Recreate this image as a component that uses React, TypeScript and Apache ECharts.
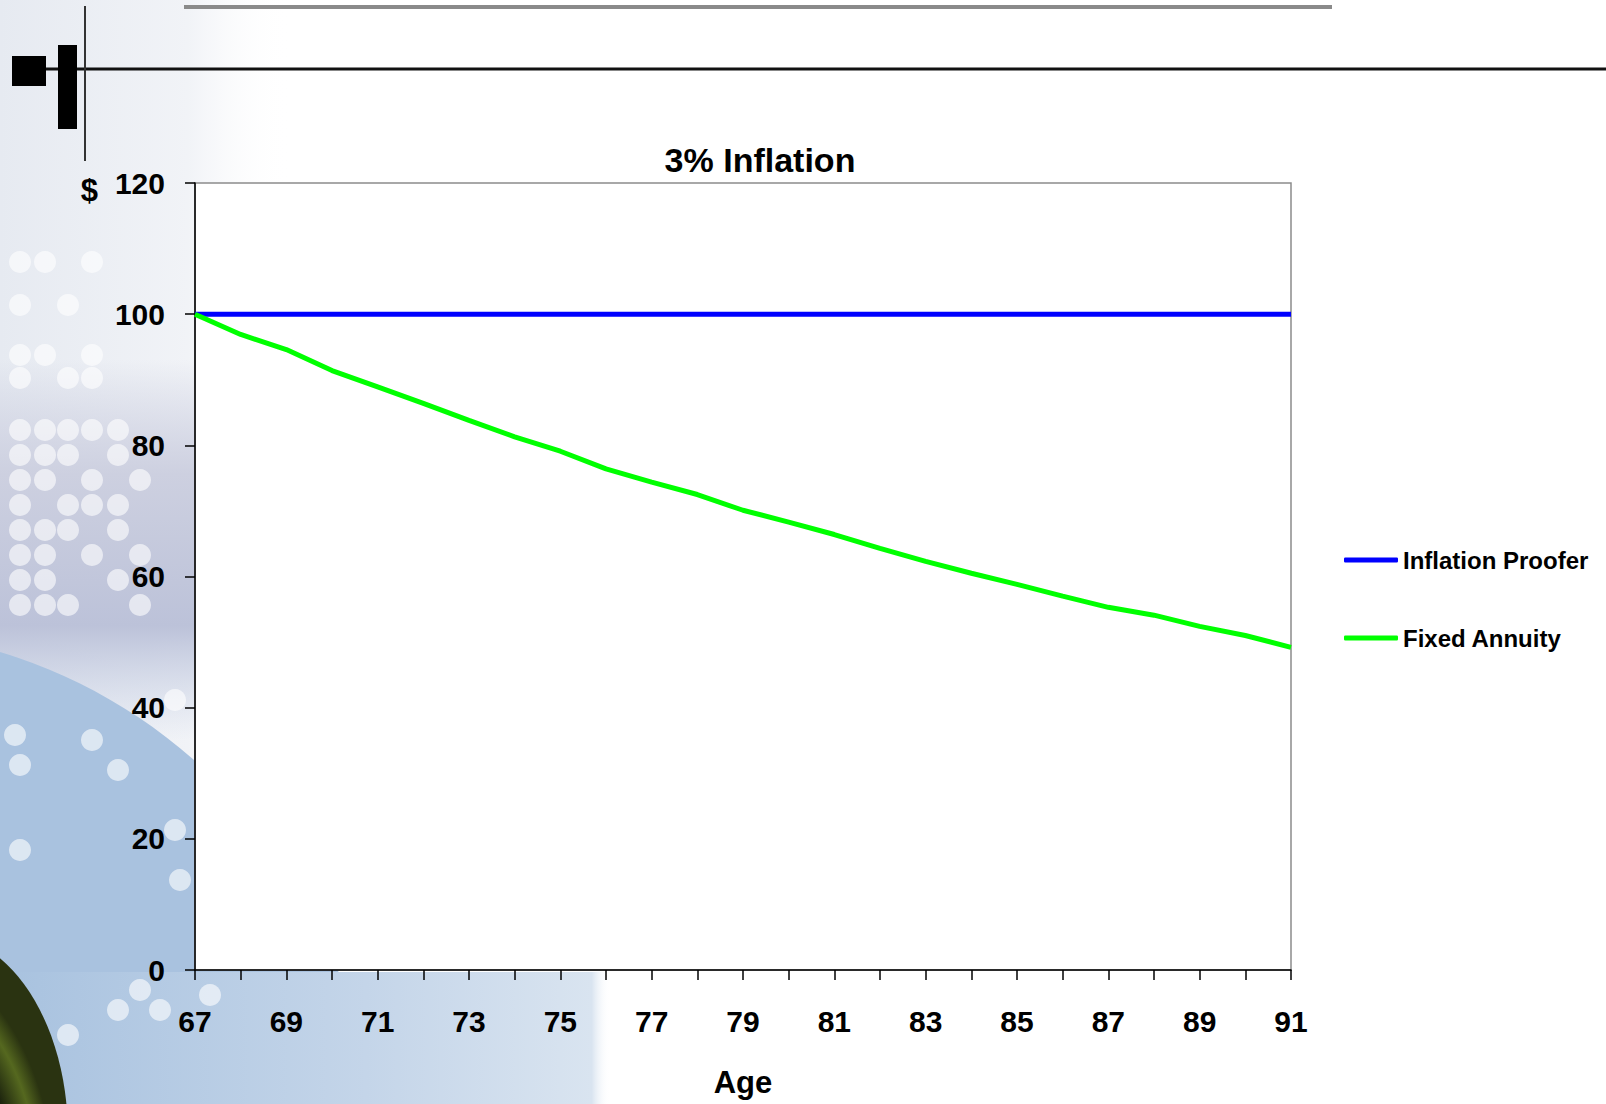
import React, { useEffect, useRef } from "react";
import * as echarts from "echarts";

const ages: string[] = [
  "67", "68", "69", "70", "71", "72", "73", "74", "75", "76", "77", "78", "79",
  "80", "81", "82", "83", "84", "85", "86", "87", "88", "89", "90", "91",
];
const inflationProofer: number[] = [
  100, 100, 100, 100, 100, 100, 100, 100, 100, 100, 100, 100, 100,
  100, 100, 100, 100, 100, 100, 100, 100, 100, 100, 100, 100,
];
const fixedAnnuity: number[] = [
  100, 96.9, 94.6, 91.4, 88.9, 86.4, 83.8, 81.3, 79.1, 76.4, 74.4, 72.5, 70.1,
  68.3, 66.4, 64.3, 62.3, 60.5, 58.8, 57.0, 55.3, 54.1, 52.4, 51.0, 49.2,
];
const seriesNames: string[] = ["Inflation Proofer", "Fixed Annuity"];
const seriesColors: string[] = ["#0000ff", "#00ff00"];
const chartTitle = "3% Inflation";
const xName = "Age";
const yName = "$";

const FONT = "'Liberation Sans', Arial, Helvetica, sans-serif";

// decorative white dots of the slide background
const dots: number[][] = [
  [20, 262], [45, 262], [92, 262], [20, 305], [68, 305], [20, 355], [45, 355], [92, 355],
  [20, 378], [68, 378], [92, 378], [20, 430], [45, 430], [68, 430], [92, 430], [118, 430],
  [20, 455], [45, 455], [68, 455], [118, 455], [20, 480], [45, 480], [92, 480], [140, 480],
  [20, 505], [68, 505], [92, 505], [118, 505], [20, 530], [45, 530], [68, 530], [118, 530],
  [20, 555], [45, 555], [92, 555], [140, 555], [20, 580], [45, 580], [118, 580],
  [20, 605], [45, 605], [68, 605], [140, 605], [175, 700], [15, 735], [92, 740],
  [20, 765], [118, 770], [20, 850], [175, 830], [180, 880],
  [140, 990], [118, 1010], [68, 1035], [160, 1010], [210, 995],
];

export default function App() {
  const ref = useRef<HTMLDivElement>(null);
  useEffect(() => {
    if (!ref.current) return;
    const chart = echarts.init(ref.current, undefined, { renderer: "svg" });

    const graphics: any[] = [
      {
        type: "rect",
        z: -20,
        silent: true,
        shape: { x: 0, y: 0, width: 290, height: 1104 },
        style: {
          fill: new echarts.graphic.LinearGradient(0, 0, 1, 0, [
            { offset: 0, color: "#e6eaf1" },
            { offset: 0.65, color: "#f1f3f7" },
            { offset: 1, color: "rgba(255,255,255,0)" },
          ]),
        },
      },
      {
        type: "rect",
        z: -19,
        silent: true,
        shape: { x: 0, y: 360, width: 200, height: 380 },
        style: {
          fill: new echarts.graphic.LinearGradient(0, 0, 0, 1, [
            { offset: 0, color: "rgba(200,203,222,0)" },
            { offset: 0.3, color: "#cdd0e0" },
            { offset: 0.7, color: "#bcc2d9" },
            { offset: 1, color: "rgba(200,210,230,0)" },
          ]),
        },
      },
      {
        type: "circle",
        z: -18,
        silent: true,
        shape: { cx: -150, cy: 1150, r: 520 },
        style: { fill: "#a9c2df" },
      },
      {
        type: "rect",
        z: -17,
        silent: true,
        shape: { x: 0, y: 972, width: 610, height: 132 },
        style: {
          fill: new echarts.graphic.LinearGradient(0, 0, 1, 0, [
            { offset: 0, color: "#a8c2df" },
            { offset: 0.6, color: "#c4d5e9" },
            { offset: 0.97, color: "#d9e4f0" },
            { offset: 1, color: "rgba(255,255,255,0)" },
          ]),
        },
      },
      ...dots.map((d) => ({
        type: "circle",
        z: -16,
        silent: true,
        shape: { cx: d[0], cy: d[1], r: 11 },
        style: { fill: "rgba(255,255,255,0.6)" },
      })),
      {
        type: "ellipse",
        z: -15,
        silent: true,
        shape: { cx: -60, cy: 1135, rx: 128, ry: 200 },
        style: {
          fill: new echarts.graphic.RadialGradient(0.35, 0.65, 0.6, [
            { offset: 0, color: "#000000" },
            { offset: 0.72, color: "#11160a" },
            { offset: 0.9, color: "#55681f" },
            { offset: 1, color: "#2a3311" },
          ]),
        },
      },
      {
        type: "rect",
        z: -14,
        silent: true,
        shape: { x: 184, y: 5, width: 1148, height: 4 },
        style: { fill: "#8a8a8a" },
      },
      {
        type: "line",
        z: -14,
        silent: true,
        shape: { x1: 40, y1: 69, x2: 1606, y2: 69 },
        style: { stroke: "#111", lineWidth: 3 },
      },
      {
        type: "line",
        z: -14,
        silent: true,
        shape: { x1: 85, y1: 6, x2: 85, y2: 161 },
        style: { stroke: "#333", lineWidth: 2 },
      },
      {
        type: "rect",
        z: -13,
        silent: true,
        shape: { x: 12, y: 56, width: 34, height: 30 },
        style: { fill: "#000" },
      },
      {
        type: "rect",
        z: -13,
        silent: true,
        shape: { x: 58, y: 45, width: 19, height: 84 },
        style: { fill: "#000" },
      },
    ];

    chart.setOption({
      animation: false,
      backgroundColor: "#ffffff",
      title: {
        text: chartTitle,
        left: 755,
        top: 138,
        textAlign: "center",
        textStyle: { fontFamily: FONT, fontSize: 34, fontWeight: "bold", color: "#000" },
      },
      legend: {
        orient: "vertical",
        left: 1339,
        top: 540,
        itemWidth: 54,
        itemHeight: 5,
        itemGap: 48,
        icon: "roundRect",
        data: seriesNames,
        textStyle: { fontFamily: FONT, fontSize: 24, fontWeight: "bold", color: "#000", lineHeight: 30 },
      },
      grid: {
        left: 195,
        right: 315,
        top: 183,
        bottom: 134,
        show: true,
        backgroundColor: "#ffffff",
        borderColor: "#8c8c8c",
        borderWidth: 1.5,
      },
      graphic: graphics,
      xAxis: {
        type: "category",
        data: ages,
        boundaryGap: false,
        name: xName,
        nameLocation: "middle",
        nameGap: 112,
        nameTextStyle: { fontFamily: FONT, fontSize: 31, fontWeight: "bold", color: "#000", verticalAlign: "middle" },
        axisLine: { show: true, lineStyle: { color: "#000", width: 1.5 } },
        axisTick: { show: true, interval: 0, length: 10, lineStyle: { color: "#000", width: 1.5 } },
        axisLabel: {
          interval: 1,
          margin: 51,
          verticalAlign: "middle",
          fontFamily: FONT,
          fontSize: 30,
          fontWeight: "bold",
          color: "#000",
        },
        splitLine: { show: false },
      },
      yAxis: {
        type: "value",
        min: 0,
        max: 120,
        interval: 20,
        name: yName,
        nameLocation: "end",
        nameGap: -7,
        nameTextStyle: {
          fontFamily: FONT,
          fontSize: 31,
          fontWeight: "bold",
          color: "#000",
          align: "right",
          verticalAlign: "middle",
          padding: [0, 97, 0, 0],
        },
        axisLine: { show: true, lineStyle: { color: "#000", width: 1.5 } },
        axisTick: { show: true, length: 10, lineStyle: { color: "#000", width: 1.5 } },
        axisLabel: { margin: 30, fontFamily: FONT, fontSize: 30, fontWeight: "bold", color: "#000" },
        splitLine: { show: false },
      },
      series: [
        {
          name: seriesNames[0],
          type: "line",
          data: inflationProofer,
          symbol: "none",
          color: seriesColors[0],
          lineStyle: { color: seriesColors[0], width: 5 },
        },
        {
          name: seriesNames[1],
          type: "line",
          data: fixedAnnuity,
          symbol: "none",
          color: seriesColors[1],
          lineStyle: { color: seriesColors[1], width: 5 },
        },
      ],
    });
    return () => chart.dispose();
  }, []);
  return (
    <div
      ref={ref}
      style={{ position: "absolute", left: 0, top: 0, width: 1606, height: 1104 }}
    />
  );
}
